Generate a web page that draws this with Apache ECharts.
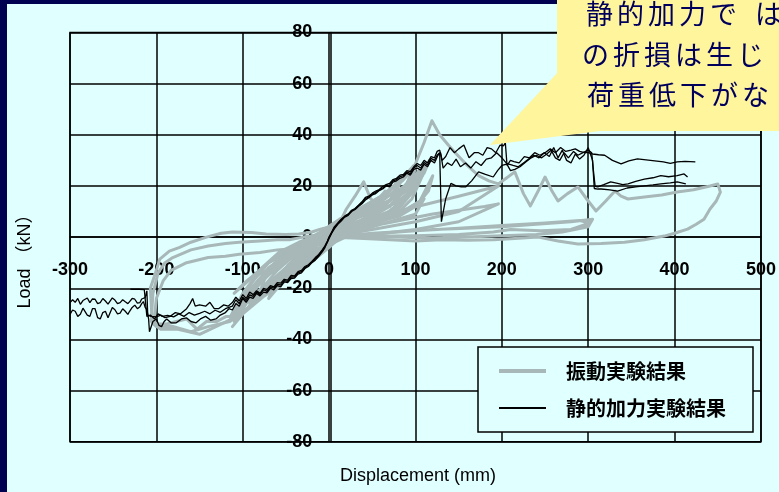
<!DOCTYPE html>
<html>
<head>
<meta charset="utf-8">
<script src="https://cdn.jsdelivr.net/npm/echarts@6/dist/echarts.min.js"></script>
<style>
  html, body { margin: 0; padding: 0; background: #e0ffff; }
  #chart { position: absolute; left: 0; top: 0; width: 779px; height: 492px; }
</style>
</head>
<body>
<div id="chart"></div>
<script>
// Axis ticks
const xTicks = { min: -300, max: 500, step: 100 };
const yTicks = { min: -80, max: 80, step: 20 };

// Series names
const vibName = '振動実験結果';
const staticName = '静的加力実験結果';

// Shaking-table test: cycles around the origin
const vibCycles = [
  [0,0],[10,4],[20,11],[30,16],[40,21.6],[48,15],[58,12],[45,8],[30,4],[15,1],[0,-2],[-15,-5],[-30,-10],[-45,-15],[-52,-17],[-45,-11],[-30,-4],[-15,0],[0,2],
  [15,5],[35,9],[55,13],[70,18],[80,22],[72,15],[55,9],[35,5],[15,2],[0,0],[-20,-3],[-40,-7],[-60,-13],[-75,-19],[-82,-23],[-72,-14],[-55,-8],[-35,-3],[-15,1],[0,3],
  [20,5],[45,7],[70,10],[90,16],[100,23],[108,27],[98,18],[80,11],[55,6],[30,3],[0,-1],[-25,-4],[-50,-9],[-72,-15],[-90,-22],[-100,-28],[-90,-18],[-70,-10],[-45,-4],[-20,0],[0,4],
  [20,6],[45,9],[70,12],[90,19],[105,25],[112,29],[100,20],[85,13],[60,7],[30,3],[0,0],[-30,-5],[-60,-12],[-85,-19],[-105,-25],[-114,-31],[-100,-22],[-80,-13],[-60,-7],[-35,-3],[-10,2],[12,7],
  [30,10],[50,13],[75,17],[95,22],[100,27],[90,21],[70,14],[45,8],[20,3],[0,-3],[-20,-9],[-45,-15],[-70,-21],[-95,-28],[-110,-33],[-98,-25],[-80,-17],[-60,-9],[-40,-4],[-20,-1],[0,1],
  [25,4],[55,6],[80,8],[100,12],[115,18],[120,24],[105,14],[80,9],[50,5],[20,2],[0,-4],[-25,-11],[-50,-17],[-75,-23],[-100,-30],[-112,-35],[-95,-28],[-75,-20],[-50,-12],[-30,-6],[-10,-2],[0,0],
  [40,6],[90,11],[150,16],[196,20],[150,10],[100,6],[50,3],[0,0]
];

// Shaking-table test: further cycles filling the band
const vibCyclesLate = [
  [0,1],[15,5],[30,9],[50,12],[65,15],[78,19],[86,24],[75,16],[55,10],[30,5],[0,0],[-20,-5],[-40,-10],[-60,-15],[-80,-21],[-92,-26],[-82,-18],[-65,-11],[-45,-6],[-25,-2],[0,2],
  [20,8],[40,12],[60,16],[75,20],[90,25],[98,28],[88,19],[70,12],[45,7],[20,2],[0,-2],[-20,-7],[-40,-12],[-60,-17],[-80,-23],[-98,-29],[-105,-32],[-92,-23],[-75,-15],[-55,-9],[-35,-5],[-15,-1],[0,1],
  [25,7],[50,10],[75,13],[95,18],[110,25],[116,30],[104,22],[88,15],[65,9],[35,4],[0,-2],[-30,-8],[-55,-14],[-78,-20],[-100,-26],[-116,-33],[-104,-27],[-85,-20],[-65,-13],[-45,-8],[-25,-4],[0,0],
  [30,5],[60,8],[90,11],[110,15],[100,9],[70,6],[40,3],[0,-1],[-30,-6],[-60,-11],[-90,-16],[-110,-22],[-95,-17],[-70,-10],[-40,-5],[-10,0],[0,1],
  [10,3],[25,7],[40,10],[55,14],[65,18],[58,11],[40,6],[20,2],[0,-1],[-15,-6],[-35,-12],[-55,-18],[-70,-24],[-60,-15],[-40,-9],[-20,-4],[0,0],
  [60,5],[120,9],[180,12],[196,13],[150,6],[100,3],[50,1],[0,0]
];

// Shaking-table test: final cycles inside the band
const vibCyclesEnd = [
  [0,0],[20,4],[45,8],[70,14],[92,21],[104,26],[94,17],[75,10],[50,5],[25,1],[0,-3],[-25,-9],[-50,-14],[-72,-19],[-90,-24],[-108,-30],[-96,-21],[-78,-12],[-58,-6],[-35,-2],[-12,1],[0,2],
  [30,8],[55,12],[80,16],[100,20],[108,24],[96,15],[75,8],[45,4],[15,0],[0,-2],[-35,-10],[-60,-16],[-85,-22],[-102,-28],[-90,-20],[-70,-12],[-50,-7],[-25,-3],[0,0],
  [15,4],[35,8],[50,11],[62,14],[52,8],[35,4],[15,0],[0,-2],[-20,-8],[-40,-13],[-58,-18],[-48,-11],[-30,-5],[-10,-1],[0,0]
];

// Shaking-table test: large positive excursion and return
const vibPositiveTrip = [
  [0,2],[30,10],[60,16],[85,22],[98,27],[110,37],[119,45.5],[128,40],[138,36],[146,33],[160,28],[173,24],[185,22],
  [196,20.8],[205,23],[215,25.5],[225,17],[233,12.2],[242,18],[250,23.5],[258,18],[265,14.1],[276,17],[288,19.6],
  [298,15],[309,10.2],[320,14],[331,18],[338,16],[346,14.9],[365,15.7],[385,16.5],[403,17.6],[422,18.5],[441,20],
  [450,20.8],[453,17.6],[448,14],[441,11],[434,7],[425,5],[415,3.1],[400,1.5],[388,0.4],[365,-1],[342,-2],[315,-2.5],
  [288,-2.7],[265,-1.5],[242,0],[215,-0.5],[190,-1],[160,-1.2],[130,-1],[100,-1.5],[70,-1],[40,-0.5],[0,0]
];

// Shaking-table test: low-load cycles out to 300 mm
const vibFlatCycles = [
  [0,0],[40,1],[80,2],[120,3],[160,3.5],[200,4],[240,5],[280,6],[305,7],[300,4],[270,2],[240,1],[200,0.5],[160,0],
  [120,-0.5],[80,0],[40,0],[0,0],[50,1.5],[100,2.5],[150,3.5],[200,4.5],[250,5.5],[290,6.5],[302,5.5],[280,3],
  [245,2.5],[210,3],[190,2],[150,1],[100,0.5],[50,0.3],[0,0]
];

// Shaking-table test: excursions to about -210 mm
const vibNegTripA = [
  [-100,-27],[-112,-31],[-119,-31],[-130,-33],[-142,-33],[-153,-36],[-165,-32],[-177,-33],[-188,-34],[-200,-34],
  [-205,-32],[-207,-20],[-202,-15],[-196,-8.6],[-185,-5.5],[-173,-4],[-160,-2],[-142,0],[-125,1.5],[-112,2],
  [-90,1.8],[-73,1.2],[-50,1],[-35,1.2],[-20,2],[-11,3],[0,4]
];
const vibNegTripB = [
  [-95,-28],[-115,-33],[-140,-35],[-160,-37],[-180,-35],[-200,-35],[-206,-33],[-204,-22],[-198,-14],[-190,-10],
  [-181,-8],[-160,-5],[-140,-3.5],[-120,-2.5],[-104,-2],[-80,-1.5],[-60,-1],[-46,-1],[-30,0],[-10,1],[0,2]
];
const vibNegTripC = [
  [-100,-30],[-125,-34],[-150,-38],[-175,-36],[-195,-36],[-203,-34],[-200,-24],[-192,-17],[-183,-13],[-165,-10],
  [-140,-8],[-120,-7.5],[-104,-6.7],[-80,-6],[-60,-5],[-46,-4.7],[-25,-3],[0,-1]
];

// Static loading tests
const staticA = [
  [-300,-25.6],[-297,-24.5],[-294,-25.5],[-291,-24],[-288,-26.3],[-285,-24.8],[-283,-25],[-280,-23.8],[-277,-25.6],
  [-274,-24.2],[-271,-24.3],[-268,-26],[-265,-25.6],[-262,-24],[-259,-25],[-256,-26.2],[-254,-25.9],[-251,-23.8],
  [-248,-24.6],[-245,-26],[-242,-25.6],[-239,-24.5],[-236,-25.3],[-233,-26],[-231,-25.2],[-228,-24],[-225,-24.3],
  [-222,-25.8],[-219,-25.6],[-217,-24.2],[-215,-24.6],[-213,-23.7],[-211,-21],[-210,-30.5],[-206,-31],[-200,-31.2],
  [-195,-30.5],[-190,-31.5],[-184,-31],[-178,-29.5],[-172,-30],[-165,-28],[-161,-26],[-158,-24],[-155,-27],
  [-150,-26.5],[-143,-27],[-138,-25.5],[-133,-28],[-128,-28],[-122,-26.5],[-117,-27],[-112,-25.6],[-108,-23.5],
  [-104,-25],[-100,-22.5],[-96,-24],[-92,-21.5],[-88,-22.5],[-84,-21],[-80,-22],[-76,-20],[-72,-20.5],[-68,-19],
  [-64,-19.5],[-60,-17.8],[-56,-18],[-52,-16.5],[-48,-16.8],[-44,-15],[-40,-15.2],[-36,-13.5],[-32,-13],[-28,-11.5],
  [-24,-10.8],[-20,-9.5],[-16,-8],[-12,-6.8],[-8,-5],[-5,-3.5],[-2,-1.5],[0,0],[3,2],[6,4],[10,5.5],[14,7],[18,8.2],
  [22,9],[26,10.5],[30,11.2],[34,12.5],[38,13.8],[42,15.5],[46,16],[50,17.2],[54,18],[58,18.6],[62,19.8],[66,20.5],
  [70,21],[74,22.5],[78,23],[82,24.2],[86,24.5],[90,26],[94,25.6],[98,27.5],[102,28.8],[106,28],[110,30],[114,29],
  [118,31.5],[122,31],[125,33.5],[128,34],[131,30],[135,31.5],[140,35],[145,33],[150,34.5],[156,36],[162,31],
  [168,33],[173,33],[178,32],[183,35],[188,34.5],[193,33],[198,36],[202,35.7],[204,37],[206,28],[210,30],[214,29.5],
  [220,29],[226,31.5],[232,31],[238,33],[244,32],[250,33],[256,34.5],[262,33],[268,35],[274,33.5],[280,34],[285,34.5],
  [290,33.5],[296,33],[300,33],[305,32.5],[312,32.2],[319,32],[328,30],[338,28.6],[347,29.8],[357,30.6],[367,30.2],
  [377,29.8],[387,29.4],[395,28.8],[403,29.4],[412,29.6],[424,29.4]
];
const staticB = [
  [-300,-30.2],[-297,-28.5],[-294,-29],[-291,-31],[-288,-30.2],[-285,-27.8],[-283,-28.4],[-280,-30.5],[-277,-31],
  [-274,-28],[-271,-28],[-268,-31.5],[-265,-32],[-262,-29.5],[-259,-29],[-256,-31.5],[-254,-31],[-251,-27.5],
  [-248,-28.4],[-245,-30],[-242,-29.7],[-239,-28],[-236,-29],[-233,-30.2],[-231,-29],[-228,-27.5],[-225,-26.6],
  [-222,-28],[-219,-27.2],[-217,-26],[-215,-25.2],[-213,-27.5],[-211,-28.4],[-209,-32],[-208,-37],[-204,-33],
  [-200,-32],[-197,-34.5],[-194,-35],[-191,-33],[-188,-32],[-183,-33.5],[-177,-33.5],[-171,-32],[-165,-31.6],
  [-160,-33],[-154,-33.5],[-149,-32],[-143,-31],[-137,-32.5],[-131,-32],[-126,-30.5],[-120,-29.5],[-116,-28],
  [-112,-28.5],[-108,-26],[-104,-27],[-100,-24],[-96,-25.5],[-92,-23.5],[-88,-24],[-84,-22],[-80,-23],[-76,-21.5],
  [-72,-21.8],[-68,-20],[-64,-20.6],[-60,-19],[-56,-19.5],[-52,-17.5],[-48,-17.8],[-44,-16.2],[-40,-16],[-36,-14.5],
  [-32,-14],[-28,-12.3],[-24,-11.5],[-20,-10],[-16,-9],[-12,-7.5],[-8,-5.8],[-5,-4.2],[-2,-2],[0,-0.5],[3,1.5],
  [6,3.2],[10,5],[14,6.3],[18,7.8],[22,8.5],[26,10],[30,10.8],[34,12],[38,13],[42,14.5],[46,15.4],[50,16.5],[54,17],
  [58,18.2],[62,18.8],[66,20],[70,19.6],[74,21.5],[78,22],[82,23],[86,23.5],[90,25],[94,24.2],[98,26.5],[102,27],
  [106,26.2],[110,28.5],[114,27.5],[118,30],[122,29],[126,32],[129,33],[132,27],[137,29],[142,28],[147,30.5],
  [152,27.5],[158,29],[164,27],[170,29.5],[176,28],[182,30.5],[188,31],[194,33],[200,31],[205,29],[210,26],
  [215,26.5],[221,27.5],[228,29.5],[234,31],[240,32],[246,31],[252,32.5],[257,34],[262,31],[267,30],[272,33],
  [277,31],[283,33.5],[288,32],[294,33],[300,34],[304,33],[306,26],[308,19.8],[311,19.6],[318,20.5],[326,21.6],
  [334,21],[340,20.5],[346,20.8],[355,21.8],[365,22.7],[375,23.2],[384,24],[393,23.6],[403,24],[411,24.7],[415,23.5]
];
const staticC = [
  [-230,-20.4],[-220,-20.4],[-214,-20.5],[-212,-21],[-211,-31],[-207,-30.5],[-202,-32],[-198,-30],[-193,-31],
  [-187,-30.6],[-180,-31.2],[-174,-30],[-168,-31],[-162,-29.5],[-156,-30.5],[-150,-29.8],[-144,-29],[-138,-30],
  [-132,-28.6],[-126,-29.4],[-120,-28],[-116,-27.5],[-112,-27],[-108,-24.5],[-104,-26],[-100,-23.5],[-96,-24.8],
  [-92,-22.6],[-88,-23.2],[-84,-21.4],[-80,-22.5],[-76,-20.5],[-72,-21.2],[-68,-19.5],[-64,-20],[-60,-18.4],
  [-56,-18.8],[-52,-17],[-48,-17.3],[-44,-15.6],[-40,-15.6],[-36,-14],[-32,-13.5],[-28,-12],[-24,-11],[-20,-9.8],
  [-16,-8.5],[-12,-7],[-8,-5.4],[-5,-3.8],[-2,-1.8],[0,0],[3,1.8],[6,3.6],[10,5.2],[14,6.8],[18,8],[22,8.8],
  [26,10.2],[30,11],[34,12.3],[38,13.4],[42,15],[46,15.7],[50,16.8],[54,17.5],[58,18.4],[62,19.2],[66,20.2],
  [70,20.3],[74,22],[78,22.5],[82,23.6],[86,24],[90,25.5],[94,24.8],[98,27],[102,28],[106,27],[110,29.2],[114,28.2],
  [118,30.8],[122,30],[125,32],[128,33],[130,6],[135,15],[141,21],[147,20],[153,19.6],[158,19.6],[165,22],
  [173,25.5],[181,24.5],[190,23.5],[195,26],[200,28],[207,28.6],[213,28],[219,27.5],[225,29],[231,30.5],[237,32],
  [243,31],[249,33],[255,31.5],[260,35],[265,31],[270,34],[275,30],[280,29],[285,32.5],[290,30.5],[295,32],
  [300,35],[303,32],[305,30],[307,19],[311,18.8],[315,18.8],[325,18.5],[334,18],[345,19.2],[355,19.6],[365,20],
  [375,20.4],[384,20.8],[395,21.2],[403,21.6],[408,21.2],[413,20.8]
];

// Callout text
const calloutLines = ['静的加力では', 'の折損は生じ', '荷重低下がな'];

const vibSeries = [vibCycles, vibCyclesLate, vibCyclesEnd, vibPositiveTrip, vibFlatCycles, vibNegTripA, vibNegTripB, vibNegTripC];
const staticSeries = [staticA, staticB, staticC];

const chart = echarts.init(document.getElementById('chart'), null, { renderer: 'canvas' });

const lineBase = { type: 'line', symbol: 'none', showSymbol: false, animation: false, silent: true };

const series = [];
vibSeries.forEach(d => series.push(Object.assign({}, lineBase, {
  name: vibName, data: d, z: 2,
  lineStyle: { color: '#a8b8b9', width: 3, join: 'round' },
  itemStyle: { color: '#a8b8b9' }
})));
staticSeries.forEach(d => series.push(Object.assign({}, lineBase, {
  name: staticName, data: d, z: 3,
  lineStyle: { color: '#000000', width: 1.3 },
  itemStyle: { color: '#000000' }
})));

// Plot rectangle
const W = 779, H = 492;
const gridLeft = 70, gridRight = 15, gridTop = 32.5, gridBottom = 50.3;
const plotW = W - gridLeft - gridRight, plotH = H - gridTop - gridBottom;
// Shift the axes so they sit on the zero lines
const xAxisShift = -plotH * (0 - yTicks.min) / (yTicks.max - yTicks.min);
const yAxisShift = -plotW * (0 - xTicks.min) / (xTicks.max - xTicks.min);

// Callout bubble characters laid out one by one
const calloutColor = '#fff59d';
const calloutStart = [[586, 14], [582, 55], [587, 95]];
const calloutAdvance = 31;
const calloutText = [];
calloutLines.forEach((line, i) => {
  Array.from(line).forEach((ch, j) => {
    calloutText.push({
      type: 'text', z: 101,
      x: calloutStart[i][0] + j * calloutAdvance + (i === 0 && j === 5 ? 14 : 0), y: calloutStart[i][1],
      style: { text: ch, fill: '#00005c', font: '27px "Noto Sans CJK JP"', textVerticalAlign: 'middle' }
    });
  });
});

const tickLabel = { color: '#000', fontSize: 18, fontWeight: 'bold', fontFamily: 'Liberation Sans', showMinLabel: true, showMaxLabel: true };

chart.setOption({
  backgroundColor: '#e0ffff',
  animation: false,
  grid: { left: gridLeft, right: gridRight, top: gridTop, bottom: gridBottom, show: true, borderColor: '#000', borderWidth: 1.5 },
  xAxis: {
    type: 'value', min: xTicks.min, max: xTicks.max, interval: xTicks.step,
    position: 'bottom', offset: xAxisShift,
    axisLine: { show: true, onZero: false, lineStyle: { color: '#000', width: 1.5 } },
    axisTick: { show: false },
    axisLabel: Object.assign({ margin: 24 }, tickLabel),
    splitLine: { show: true, lineStyle: { color: '#000', width: 1.5 } }
  },
  yAxis: {
    type: 'value', min: yTicks.min, max: yTicks.max, interval: yTicks.step,
    position: 'left', offset: yAxisShift,
    axisLine: { show: true, onZero: false, lineStyle: { color: '#000', width: 1.5 } },
    axisTick: { show: false },
    axisLabel: Object.assign({ margin: 18, padding: [4, 0, 0, 0] }, tickLabel),
    splitLine: { show: true, lineStyle: { color: '#000', width: 1.5 } }
  },
  legend: {
    orient: 'vertical', left: 478, top: 347,
    padding: [14, 27, 14, 19], itemGap: 17, itemWidth: 47, itemHeight: 14,
    backgroundColor: '#e0ffff', borderColor: '#000', borderWidth: 1.5, borderRadius: 0,
    itemStyle: { color: 'transparent', borderWidth: 0, opacity: 0 },
    textStyle: { fontFamily: 'Noto Sans CJK JP', fontWeight: 'bold', fontSize: 20, color: '#000', padding: [0, 0, 0, 15] },
    data: [
      { name: vibName, lineStyle: { width: 4, color: '#a8b8b9' } },
      { name: staticName, lineStyle: { width: 2, color: '#000' } }
    ]
  },
  graphic: [
    { type: 'rect', z: 100, shape: { x: 0, y: 0, width: 7, height: H }, style: { fill: '#000050' } },
    { type: 'rect', z: 100, shape: { x: 0, y: 0, width: W, height: 4 }, style: { fill: '#000050' } },
    { type: 'text', z: 100, x: 418, y: 476,
      style: { text: 'Displacement (mm)', fill: '#000', font: '18px "Liberation Sans"', textAlign: 'center', textVerticalAlign: 'middle' } },
    { type: 'text', z: 100, x: 25, y: 257, rotation: Math.PI / 2,
      style: { text: 'Load （kN）', fill: '#000', font: '18px "Liberation Sans", "Noto Sans CJK JP"', textAlign: 'center', textVerticalAlign: 'middle' } },
    { type: 'polygon', z: 100, shape: { points: [[490, 145], [560, 70], [600, 131]] }, style: { fill: calloutColor } },
    { type: 'rect', z: 100, shape: { x: 557, y: -30, width: 260, height: 161, r: 18 }, style: { fill: calloutColor } }
  ].concat(calloutText),
  series: series
});
</script>
</body>
</html>
